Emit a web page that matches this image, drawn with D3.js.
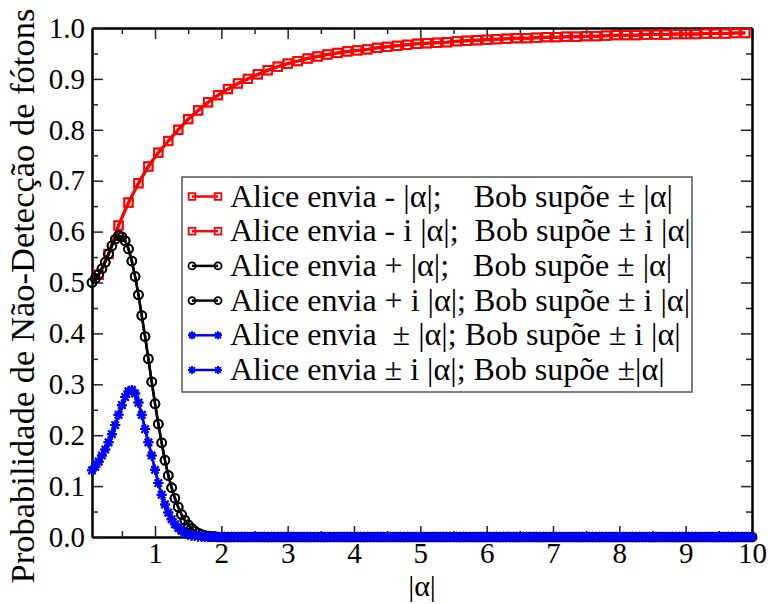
<!DOCTYPE html>
<html>
<head>
<meta charset="utf-8">
<script src="https://cdn.jsdelivr.net/npm/d3@7"></script>
<style>
  body { margin: 0; background: #fff; }
  text { font-family: "Liberation Serif", "Times New Roman", serif; fill: #000; }
</style>
</head>
<body>
<svg id="chart"></svg>
<script>
// |alpha| sampling of the black and blue curves
const alphaFine = [
  0.05,0.1,0.15,0.2,0.25,0.3,0.35,0.4,0.45,0.5,0.55,0.6,0.65,0.7,0.75,0.8,0.85,0.9,0.95,1,
  1.05,1.1,1.15,1.2,1.25,1.3,1.35,1.4,1.45,1.5,1.55,1.6,1.65,1.7,1.75,1.8,1.85,1.9,1.95,2,
  2.05,2.1,2.15,2.2,2.25,2.3,2.35,2.4,2.45,2.5,2.55,2.6,2.65,2.7,2.75,2.8,2.85,2.9,2.95,3,
  3.05,3.1,3.15,3.2,3.25,3.3,3.35,3.4,3.45,3.5,3.55,3.6,3.65,3.7,3.75,3.8,3.85,3.9,3.95,4,
  4.05,4.1,4.15,4.2,4.25,4.3,4.35,4.4,4.45,4.5,4.55,4.6,4.65,4.7,4.75,4.8,4.85,4.9,4.95,5,
  5.05,5.1,5.15,5.2,5.25,5.3,5.35,5.4,5.45,5.5,5.55,5.6,5.65,5.7,5.75,5.8,5.85,5.9,5.95,6,
  6.05,6.1,6.15,6.2,6.25,6.3,6.35,6.4,6.45,6.5,6.55,6.6,6.65,6.7,6.75,6.8,6.85,6.9,6.95,7,
  7.05,7.1,7.15,7.2,7.25,7.3,7.35,7.4,7.45,7.5,7.55,7.6,7.65,7.7,7.75,7.8,7.85,7.9,7.95,8,
  8.05,8.1,8.15,8.2,8.25,8.3,8.35,8.4,8.45,8.5,8.55,8.6,8.65,8.7,8.75,8.8,8.85,8.9,8.95,9,
  9.05,9.1,9.15,9.2,9.25,9.3,9.35,9.4,9.45,9.5,9.55,9.6,9.65,9.7,9.75,9.8,9.85,9.9,9.95,10
];

// |alpha| sampling of the red curves
const alphaCoarse = [
  0,0.15,0.3,0.45,0.6,0.75,0.9,1.05,1.2,1.35,1.5,1.65,1.8,1.95,2.1,2.25,2.4,2.55,2.7,2.85,
  3,3.15,3.3,3.45,3.6,3.75,3.9,4.05,4.2,4.35,4.5,4.65,4.8,4.95,5.1,5.25,5.4,5.55,5.7,5.85,
  6,6.15,6.3,6.45,6.6,6.75,6.9,7.05,7.2,7.35,7.5,7.65,7.8,7.95,8.1,8.25,8.4,8.55,8.7,8.85,
  9,9.15,9.3,9.45,9.6,9.75,9.9
];

// Alice envia -|a| / -i|a| (red, both sets on the same curve)
const redValues = [
  0.500,0.515,0.556,0.612,0.657,0.695,0.728,0.755,0.778,0.800,0.821,0.838,0.854,0.868,0.880,0.891,0.900,0.909,0.917,0.924,
  0.930,0.935,0.940,0.944,0.948,0.951,0.954,0.956,0.958,0.961,0.963,0.965,0.967,0.969,0.970,0.971,0.972,0.974,0.975,0.976,
  0.977,0.978,0.979,0.980,0.980,0.981,0.982,0.982,0.983,0.983,0.984,0.984,0.985,0.986,0.986,0.986,0.987,0.987,0.987,0.988,
  0.988,0.988,0.989,0.989,0.989,0.990,0.990
];

// Alice envia +|a| / +i|a| (black)
const blackValues = [
  0.500,0.508,0.516,0.527,0.540,0.556,0.572,0.585,0.592,0.590,0.582,0.566,0.542,0.512,0.476,0.435,0.394,0.350,0.305,0.262,
  0.222,0.185,0.151,0.121,0.097,0.076,0.059,0.044,0.033,0.024,0.017,0.012,0.008,0.005,0.003,0.002,0.001,0.001,0,0,
  0,0,0,0,0,0,0,0,0,0,0,0,0,0,0,0,0,0,0,0,
  0,0,0,0,0,0,0,0,0,0,0,0,0,0,0,0,0,0,0,0,
  0,0,0,0,0,0,0,0,0,0,0,0,0,0,0,0,0,0,0,0,
  0,0,0,0,0,0,0,0,0,0,0,0,0,0,0,0,0,0,0,0,
  0,0,0,0,0,0,0,0,0,0,0,0,0,0,0,0,0,0,0,0,
  0,0,0,0,0,0,0,0,0,0,0,0,0,0,0,0,0,0,0,0,
  0,0,0,0,0,0,0,0,0,0,0,0,0,0,0,0,0,0,0,0,
  0,0,0,0,0,0,0,0,0,0,0,0,0,0,0,0,0,0,0,0
];

// Alice envia +-|a| / +-i|a| (blue)
const blueValues = [
  0.131,0.138,0.148,0.160,0.172,0.186,0.202,0.220,0.240,0.259,0.275,0.286,0.289,0.282,0.264,0.240,0.212,0.186,0.160,0.132,
  0.106,0.083,0.064,0.048,0.035,0.025,0.018,0.012,0.008,0.005,0.003,0.002,0.001,0.001,0,0,0,0,0,0,
  0,0,0,0,0,0,0,0,0,0,0,0,0,0,0,0,0,0,0,0,
  0,0,0,0,0,0,0,0,0,0,0,0,0,0,0,0,0,0,0,0,
  0,0,0,0,0,0,0,0,0,0,0,0,0,0,0,0,0,0,0,0,
  0,0,0,0,0,0,0,0,0,0,0,0,0,0,0,0,0,0,0,0,
  0,0,0,0,0,0,0,0,0,0,0,0,0,0,0,0,0,0,0,0,
  0,0,0,0,0,0,0,0,0,0,0,0,0,0,0,0,0,0,0,0,
  0,0,0,0,0,0,0,0,0,0,0,0,0,0,0,0,0,0,0,0,
  0,0,0,0,0,0,0,0,0,0,0,0,0,0,0,0,0,0,0,0
];

const xMajorTicks = [1,2,3,4,5,6,7,8,9,10];
const xMinorTicks = [0.5,1.5,2.5,3.5,4.5,5.5,6.5,7.5,8.5,9.5];
const yMajorTicks = [0,0.1,0.2,0.3,0.4,0.5,0.6,0.7,0.8,0.9,1.0];
const yMinorTicks = [0.05,0.15,0.25,0.35,0.45,0.55,0.65,0.75,0.85,0.95];

const legendLabels = [
  "Alice envia - |α|;    Bob supõe ± |α|",
  "Alice envia - i |α|;  Bob supõe ± i |α|",
  "Alice envia + |α|;   Bob supõe ± |α|",
  "Alice envia + i |α|; Bob supõe ± i |α|",
  "Alice envia  ± |α|; Bob supõe ± i |α|",
  "Alice envia ± i |α|; Bob supõe ±|α|"
];
const legendColors = ["#ff0000", "#ff0000", "#000000", "#000000", "#0000ff", "#0000ff"];
const legendSymbols = ["square", "square", "circle", "circle", "star", "star"];

const width = 769, height = 604;
const plot = { left: 92, right: 752, top: 28, bottom: 537 };

const svg = d3.select("#chart")
  .attr("width", width)
  .attr("height", height)
  .attr("viewBox", [0, 0, width, height])
  .style("display", "block")
  .style("background", "#fff");

const x = d3.scaleLinear().domain([0.05, 10]).range([plot.left, plot.right]);
const y = d3.scaleLinear().domain([0, 1]).range([plot.bottom, plot.top]);

svg.append("defs").append("clipPath").attr("id", "clip")
  .append("rect")
  .attr("x", plot.left).attr("y", plot.top)
  .attr("width", plot.right - plot.left).attr("height", plot.bottom - plot.top);

// axes: ticks point inwards on all four sides
const styleAxis = g => {
  g.select(".domain").attr("stroke", "#000").attr("stroke-width", 2);
  g.selectAll(".tick line").attr("stroke", "#222").attr("stroke-width", 1.5);
  g.selectAll(".tick text").style("font-size", "29px").attr("fill", "#000");
};

svg.append("g")
  .attr("transform", `translate(0,${plot.bottom})`)
  .call(d3.axisBottom(x).tickValues(xMajorTicks).tickSize(-11).tickSizeOuter(0).tickPadding(5).tickFormat(d3.format("d")))
  .call(styleAxis)
  .call(g => g.selectAll(".tick text").attr("dy", "0.72em"));
svg.append("g")
  .attr("transform", `translate(0,${plot.bottom})`)
  .call(d3.axisBottom(x).tickValues(xMinorTicks).tickSize(-6).tickSizeOuter(0).tickFormat(""))
  .call(styleAxis);
svg.append("g")
  .attr("transform", `translate(0,${plot.top})`)
  .call(d3.axisTop(x).tickValues(xMajorTicks).tickSize(-11).tickSizeOuter(0).tickFormat(""))
  .call(styleAxis);
svg.append("g")
  .attr("transform", `translate(0,${plot.top})`)
  .call(d3.axisTop(x).tickValues(xMinorTicks).tickSize(-6).tickSizeOuter(0).tickFormat(""))
  .call(styleAxis);

svg.append("g")
  .attr("transform", `translate(${plot.left},0)`)
  .call(d3.axisLeft(y).tickValues(yMajorTicks).tickSize(-11).tickSizeOuter(0).tickPadding(7).tickFormat(d3.format(".1f")))
  .call(styleAxis);
svg.append("g")
  .attr("transform", `translate(${plot.left},0)`)
  .call(d3.axisLeft(y).tickValues(yMinorTicks).tickSize(-6).tickSizeOuter(0).tickFormat(""))
  .call(styleAxis);
svg.append("g")
  .attr("transform", `translate(${plot.right},0)`)
  .call(d3.axisRight(y).tickValues(yMajorTicks).tickSize(-11).tickSizeOuter(0).tickFormat(""))
  .call(styleAxis);
svg.append("g")
  .attr("transform", `translate(${plot.right},0)`)
  .call(d3.axisRight(y).tickValues(yMinorTicks).tickSize(-6).tickSizeOuter(0).tickFormat(""))
  .call(styleAxis);

// axis titles
svg.append("text")
  .attr("x", (plot.left + plot.right) / 2)
  .attr("y", 596)
  .attr("text-anchor", "middle")
  .style("font-size", "30px")
  .text("|α|");

svg.append("text")
  .attr("transform", `translate(34,296) rotate(-90)`)
  .attr("text-anchor", "middle")
  .style("font-size", "34.5px")
  .text("Probabilidade de Não-Detecção de fótons");

// symbol painters
function drawSymbol(g, kind, color, cx, cy, k = 1) {
  if (kind === "square") {
    const h = 4.2 * k;
    g.append("rect")
      .attr("x", cx - h).attr("y", cy - h).attr("width", 2 * h).attr("height", 2 * h)
      .attr("fill", "none").attr("stroke", color).attr("stroke-width", 1.8);
  } else if (kind === "circle") {
    g.append("circle")
      .attr("cx", cx).attr("cy", cy).attr("r", 4.4 * k)
      .attr("fill", "none").attr("stroke", color).attr("stroke-width", 1.8);
  } else {
    const s = 5 * k, a = 3.6 * k;
    g.append("path")
      .attr("d", `M${cx - s},${cy}H${cx + s}M${cx},${cy - s}V${cy + s}M${cx - a},${cy - a}L${cx + a},${cy + a}M${cx - a},${cy + a}L${cx + a},${cy - a}`)
      .attr("fill", "none").attr("stroke", color).attr("stroke-width", 2);
  }
}

const series = [
  { xs: alphaCoarse, ys: redValues, color: legendColors[0], symbol: legendSymbols[0], lw: 3 },
  { xs: alphaCoarse, ys: redValues, color: legendColors[1], symbol: legendSymbols[1], lw: 3 },
  { xs: alphaFine, ys: blackValues, color: legendColors[2], symbol: legendSymbols[2], lw: 2.5 },
  { xs: alphaFine, ys: blackValues, color: legendColors[3], symbol: legendSymbols[3], lw: 2.5 },
  { xs: alphaFine, ys: blueValues, color: legendColors[4], symbol: legendSymbols[4], lw: 2.5 },
  { xs: alphaFine, ys: blueValues, color: legendColors[5], symbol: legendSymbols[5], lw: 2.5 }
];

const line = d3.line().x(d => x(d[0])).y(d => y(d[1]));

series.forEach(s => {
  const pts = s.xs.map((v, i) => [v, s.ys[i]]).filter(d => d[1] !== undefined);
  const g = svg.append("g");
  g.append("path")
    .attr("clip-path", "url(#clip)")
    .attr("d", line(pts))
    .attr("fill", "none")
    .attr("stroke", s.color)
    .attr("stroke-width", s.lw);
  pts.filter(d => d[0] >= x.domain()[0] && d[0] <= x.domain()[1])
    .forEach(d => drawSymbol(g, s.symbol, s.color, x(d[0]), y(d[1])));
});

// legend
const legend = svg.append("g");
legend.append("rect")
  .attr("x", 182).attr("y", 177).attr("width", 510).attr("height", 215)
  .attr("fill", "#fff").attr("stroke", "#555").attr("stroke-width", 1.5);

legendLabels.forEach((label, i) => {
  const ry = 196.5 + i * 34.7;
  const g = legend.append("g");
  g.append("line")
    .attr("x1", 192).attr("x2", 218).attr("y1", ry).attr("y2", ry)
    .attr("stroke", legendColors[i]).attr("stroke-width", 2.5);
  drawSymbol(g, legendSymbols[i], legendColors[i], 192, ry, 0.8);
  drawSymbol(g, legendSymbols[i], legendColors[i], 218, ry, 0.8);
  g.append("text")
    .attr("x", 230).attr("y", ry + 10)
    .style("font-size", "32px")
    .style("white-space", "pre")
    .text(label);
});
</script>
</body>
</html>
